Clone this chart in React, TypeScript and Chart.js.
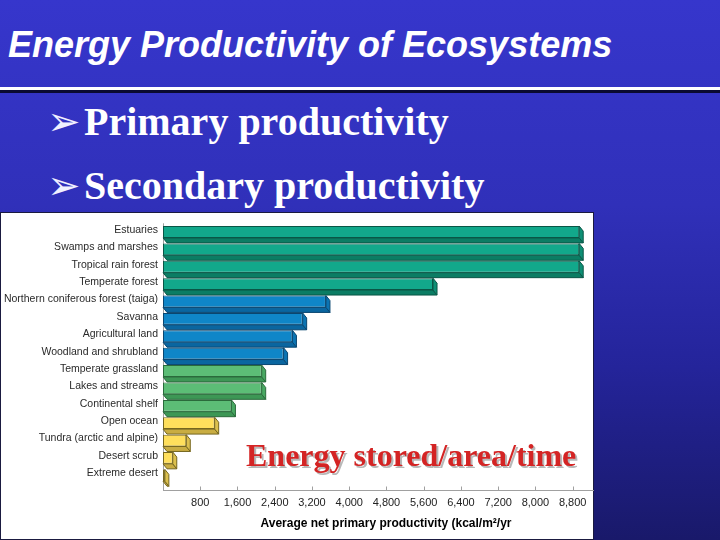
import React, { useEffect, useRef } from "react";
import { Chart, registerables } from "chart.js";

Chart.register(...registerables);

// ---------- data ----------
const slideTitle = "Energy Productivity of Ecosystems";
const bullets = ["Primary productivity", "Secondary productivity"];
const overlayText = "Energy stored/area/time";
const axisTitle = "Average net primary productivity (kcal/m²/yr";

const categories = [
  "Estuaries",
  "Swamps and marshes",
  "Tropical rain forest",
  "Temperate forest",
  "Northern coniferous forest (taiga)",
  "Savanna",
  "Agricultural land",
  "Woodland and shrubland",
  "Temperate grassland",
  "Lakes and streams",
  "Continental shelf",
  "Open ocean",
  "Tundra (arctic and alpine)",
  "Desert scrub",
  "Extreme desert",
];
const productivity = [8940, 8940, 8940, 5800, 3500, 3000, 2780, 2590, 2120, 2120, 1470, 1110, 500, 210, 40];
const tiers = [0, 0, 0, 0, 1, 1, 1, 1, 2, 2, 2, 3, 3, 3, 3];
const xTickValues = [800, 1600, 2400, 3200, 4000, 4800, 5600, 6400, 7200, 8000, 8800];
const xMax = 9000;

// ---------- styles ----------
const PALETTE = [
  { front: "#12a88b", bottom: "#0b7d64", side: "#0e8f75", stroke: "#0a5646" },
  { front: "#0f86c8", bottom: "#0a66a0", side: "#0c74b2", stroke: "#094670" },
  { front: "#5cbd76", bottom: "#3d9755", side: "#48a862", stroke: "#2a6a3b" },
  { front: "#ffdf5c", bottom: "#c9ad42", side: "#dcc04e", stroke: "#75661f" },
];
const DX = 4;
const DY = 5;
const FONT = "'Liberation Sans', Arial, sans-serif";

const depthPlugin = {
  id: "depth3d",
  beforeDatasetsDraw(chart: any) {
    const { ctx, chartArea } = chart;
    const xs = chart.scales.x;
    const axisY = Math.round(chartArea.bottom + 6) + 0.5;
    ctx.save();
    ctx.lineWidth = 1;
    ctx.strokeStyle = "#a0a0a0";
    ctx.beginPath();
    ctx.moveTo(chartArea.left, axisY);
    ctx.lineTo(chart.width, axisY);
    ctx.stroke();
    const lx = Math.round(chartArea.left) + 0.5;
    ctx.beginPath();
    ctx.moveTo(lx, chartArea.top);
    ctx.lineTo(lx, axisY);
    ctx.stroke();
    xs.ticks.forEach((t: any) => {
      if (t.value === 0) return;
      const px = Math.round(xs.getPixelForValue(t.value)) + 0.5;
      ctx.beginPath();
      ctx.moveTo(px, axisY - 4);
      ctx.lineTo(px, axisY);
      ctx.stroke();
    });

    const meta = chart.getDatasetMeta(0);
    meta.data.forEach((bar: any, i: number) => {
      const { x, y, base, height } = bar.getProps(["x", "y", "base", "height"], true);
      const p = PALETTE[tiers[i]];
      const top = y - height / 2;
      const bot = y + height / 2;
      ctx.strokeStyle = p.stroke;
      ctx.beginPath();
      ctx.moveTo(base, bot);
      ctx.lineTo(x, bot);
      ctx.lineTo(x + DX, bot + DY);
      ctx.lineTo(base + DX, bot + DY);
      ctx.closePath();
      ctx.fillStyle = p.bottom;
      ctx.fill();
      ctx.stroke();
      ctx.beginPath();
      ctx.moveTo(x, top);
      ctx.lineTo(x + DX, top + DY);
      ctx.lineTo(x + DX, bot + DY);
      ctx.lineTo(x, bot);
      ctx.closePath();
      ctx.fillStyle = p.side;
      ctx.fill();
      ctx.stroke();
    });
    ctx.restore();
  },
  afterDraw(chart: any) {
    const { ctx } = chart;
    ctx.save();
    ctx.font = `bold 12px ${FONT}`;
    ctx.fillStyle = "#000";
    ctx.textAlign = "center";
    ctx.textBaseline = "middle";
    ctx.fillText(axisTitle, 386, 312);
    ctx.restore();
  },
};

function ProductivityChart() {
  const ref = useRef<HTMLCanvasElement | null>(null);
  useEffect(() => {
    if (!ref.current) return;
    const chart = new Chart(ref.current, {
      type: "bar",
      data: {
        labels: categories,
        datasets: [
          {
            data: productivity,
            backgroundColor: tiers.map((t) => PALETTE[t].front),
            borderColor: tiers.map((t) => PALETTE[t].stroke),
            borderWidth: 1,
            borderSkipped: false,
            categoryPercentage: 1,
            barPercentage: 0.68,
          },
        ],
      },
      options: {
        indexAxis: "y",
        animation: false,
        responsive: false,
        devicePixelRatio: 1,
        layout: { padding: { top: 8, right: 12, left: 0, bottom: 0 } },
        plugins: { legend: { display: false }, tooltip: { enabled: false }, title: { display: false } },
        scales: {
          x: {
            min: 0,
            max: xMax,
            grid: { display: false, drawTicks: false },
            border: { display: false },
            afterBuildTicks: (s: any) => {
              s.ticks = xTickValues.map((v) => ({ value: v }));
            },
            ticks: {
              autoSkip: false,
              maxRotation: 0,
              minRotation: 0,
              padding: 12,
              color: "#222",
              font: { family: FONT, size: 11 },
              callback: (v: any) => Number(v).toLocaleString("en-US"),
            },
            afterFit: (s: any) => {
              s.height = 56;
              s.paddingRight = 0;
              s.paddingLeft = 0;
            },
          },
          y: {
            grid: { display: false, drawTicks: false },
            border: { display: false },
            ticks: {
              padding: 5,
              labelOffset: -2,
              autoSkip: false,
              color: "#2a2a2a",
              font: { family: FONT, size: 10.5 },
            },
            afterFit: (s: any) => {
              s.width = 163;
            },
          },
        },
      },
      plugins: [depthPlugin],
    } as any);
    return () => chart.destroy();
  }, []);
  return <canvas ref={ref} width={594} height={328} style={{ width: 594, height: 328, display: "block" }} />;
}

export default function App() {
  return (
    <div
      style={{
        position: "fixed",
        left: 0,
        top: 0,
        width: 720,
        height: 540,
        overflow: "hidden",
        background: "linear-gradient(to bottom, #3636cc 0%, #3030b9 38%, #24249a 68%, #19196a 100%)",
      }}
    >
      <div
        style={{
          position: "absolute",
          left: 8,
          top: 27,
          font: `italic bold 36px ${FONT}`,
          lineHeight: "36px",
          color: "#fff",
          whiteSpace: "nowrap",
        }}
      >
        {slideTitle}
      </div>
      <div style={{ position: "absolute", left: 0, top: 87, width: 720, height: 3, background: "#fff" }} />
      <div style={{ position: "absolute", left: 0, top: 90, width: 720, height: 3, background: "#0a0a30" }} />
      {bullets.map((b, i) => (
        <div
          key={b}
          style={{
            position: "absolute",
            left: 47,
            top: 101 + i * 64,
            height: 40,
            display: "flex",
            alignItems: "baseline",
            whiteSpace: "nowrap",
            color: "#fff",
          }}
        >
          <span style={{ font: `40px 'DejaVu Sans', sans-serif`, width: 37, lineHeight: "40px", color: "#f0f0ff" }}>➢</span>
          <span style={{ font: `bold 40px 'Liberation Serif', 'Times New Roman', serif`, lineHeight: "40px" }}>{b}</span>
        </div>
      ))}
      <div
        style={{
          position: "absolute",
          left: 0,
          top: 212,
          width: 594,
          height: 328,
          background: "#fff",
          boxSizing: "border-box",
          border: "1px solid #1a1a40",
        }}
      />
      <div style={{ position: "absolute", left: 0, top: 212 }}>
        <ProductivityChart />
      </div>
      <div
        style={{
          position: "absolute",
          left: 246,
          top: 439,
          font: `bold 32px 'Liberation Serif', 'Times New Roman', serif`,
          lineHeight: "32px",
          color: "#d42424",
          textShadow: "2px 2px 0 #b8b8b8",
          whiteSpace: "nowrap",
        }}
      >
        {overlayText}
      </div>
    </div>
  );
}
